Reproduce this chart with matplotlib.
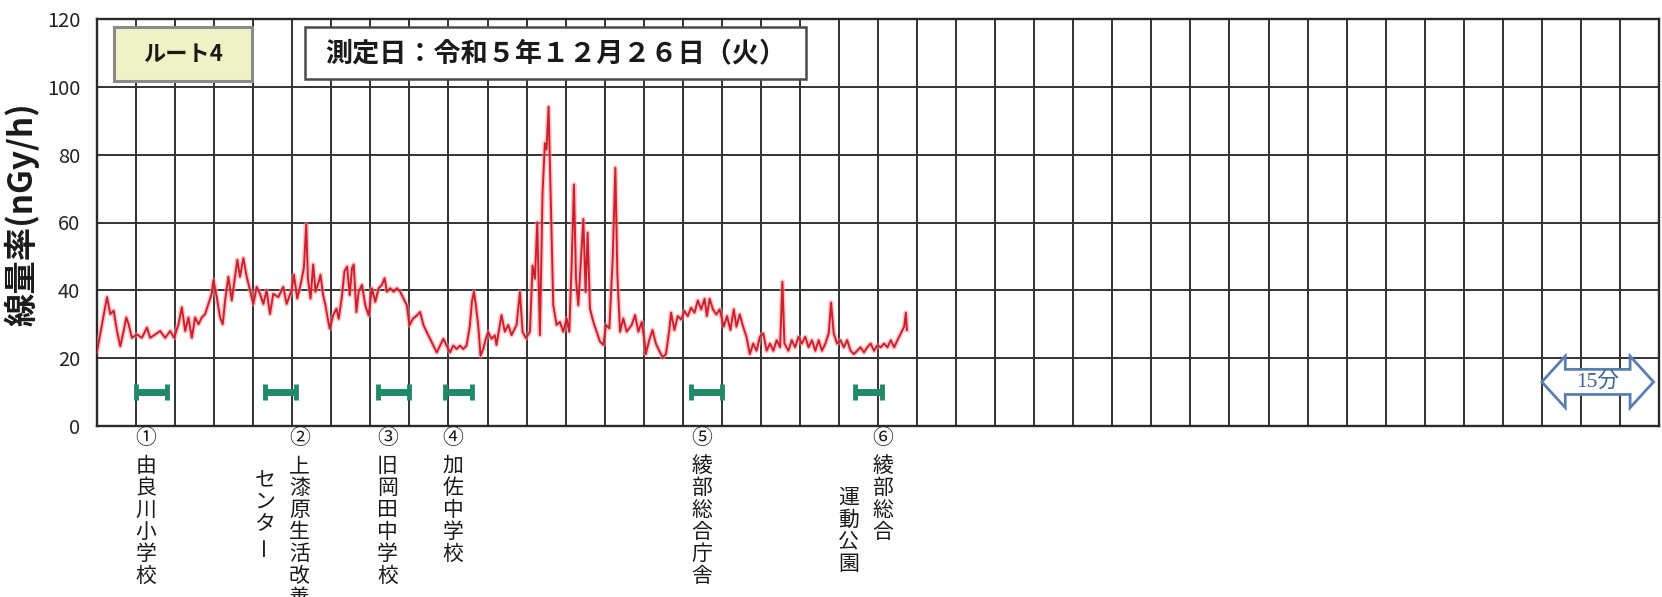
import matplotlib
matplotlib.use("Agg")
import matplotlib.pyplot as plt
import matplotlib.transforms as mtransforms
from matplotlib.patches import Rectangle, Polygon

plt.rcParams["font.family"] = ["Noto Sans CJK JP", "DejaVu Sans"]

# elapsed time (minutes) and dose rate (nGy/h)
minutes = [
    0.0, 0.64, 1.28, 1.70, 2.13, 2.56, 2.98, 3.41, 3.75, 4.05, 4.47, 5.11, 5.75, 6.39, 6.81,
    7.45, 8.09, 8.73, 9.37, 9.88, 10.43, 10.86, 11.29, 11.71, 12.14, 12.56, 12.99, 13.42,
    13.84, 14.27, 14.69, 14.91, 15.33, 15.76, 16.10, 16.40, 16.82, 17.25, 17.67, 17.97,
    18.31, 18.74, 19.17, 19.59, 20.02, 20.44, 20.87, 21.30, 21.72, 22.15, 22.57, 23.21,
    23.85, 24.28, 24.92,
    25.21, 25.64, 26.06, 26.49, 26.79, 27.00, 27.34, 27.68, 27.98, 28.40, 28.61, 28.95,
    29.25, 29.55, 29.80, 30.23, 30.66, 30.95, 31.38, 31.68, 32.02, 32.36, 32.65, 32.87,
    33.21, 33.50, 33.93, 34.35, 34.78, 35.20, 35.63, 36.06, 36.48, 36.82, 37.12, 37.54,
    37.97, 38.39, 38.82, 39.24, 39.67, 40.01, 40.44, 40.95, 41.37, 41.80, 42.22, 42.65,
    43.07, 43.50, 43.92, 44.35, 44.77, 45.20, 45.62, 46.05, 46.47, 46.90, 47.32, 47.75,
    48.00, 48.26, 48.51, 48.81, 49.11, 49.45, 49.79, 50.09, 50.51, 50.94,
    51.15, 51.79, 52.22, 52.65, 53.08, 53.72, 54.15, 54.49, 54.91, 55.43, 55.77, 56.07,
    56.37, 56.71, 57.05, 57.35, 57.56, 57.82, 58.08, 58.42, 58.85, 59.27, 59.70, 60.13,
    60.47, 60.77, 61.07, 61.33, 61.62, 61.92, 62.27, 62.56, 62.82, 63.12, 63.55, 63.98,
    64.40, 64.83, 65.17, 65.60, 66.03, 66.37, 66.63, 66.97, 67.39, 67.82, 68.46, 68.89,
    69.32, 69.75, 70.17,
    70.27, 70.70, 71.13, 71.56, 71.99, 72.42, 72.85, 73.28, 73.50, 73.93, 74.36, 74.79,
    75.21, 75.64, 76.07, 76.50, 76.93, 77.36, 77.79, 78.09, 78.44, 78.87, 79.30, 79.73,
    80.24, 80.67, 81.10, 81.53, 81.87, 82.30, 82.73, 83.16, 83.59, 84.02, 84.45, 84.88,
    85.31, 85.74, 86.17, 86.60, 87.03, 87.46, 87.76, 88.02, 88.53, 88.96, 89.39, 89.82,
    90.25, 90.68, 91.11, 91.54, 91.97, 92.40, 92.83, 93.26, 93.69, 93.99, 94.33, 94.76,
    95.19, 95.62, 96.05, 96.48, 96.91, 97.34, 97.77, 98.20, 98.63, 99.06, 99.49, 99.92,
    100.35, 100.78, 101.21, 101.64, 102.07, 102.49, 102.92, 103.35, 103.57, 103.70,
]
dose = [
    22, 30, 38, 33, 34, 28, 23.5, 28, 32, 30, 26, 27, 26, 29, 26,
    27, 28, 26, 28, 26, 30, 35, 28, 32, 26, 32, 30, 32,
    33, 36, 39, 43, 38, 32, 30, 37, 44, 37, 44, 49,
    44, 49.5, 44, 40, 36, 41, 39, 36, 40, 33, 39, 38,
    41, 36, 40,
    44.6, 37.6, 41.6, 46.6, 59.5, 43.6, 37.6, 47.6, 39.6, 42.6, 44.6, 38.6,
    35.6, 31.6, 28.7, 32.6, 34.6, 31.6, 38.6, 45.6, 47.0, 38.6, 46.6, 47.6,
    33.6, 39.6, 41.6, 35.6, 32.6, 40.6, 36.6, 40.6, 41.6, 43.6, 39.6, 40.6,
    39.6, 40.6, 39.6, 37.6, 35.6, 29.7, 31.6, 32.6, 33.6, 29.7, 27.7, 25.7,
    23.7, 21.7, 23.7, 25.7, 23.7, 21.7, 23.7, 22.7, 23.7, 22.7, 23.7, 29.7,
    36.6, 39.6, 35.6, 29.7, 20.7, 22.7, 25.7, 27.7, 25.7, 26.7,
    23.9, 32.7, 27.8, 29.8, 26.8, 29.8, 39.5, 27.8, 25.9, 27.8, 47.3, 43.4,
    60.0, 26.8, 68.8, 83.4, 81.5, 94.1, 68.8, 35.6, 29.8, 30.7, 27.8, 31.7,
    27.8, 47.3, 71.2, 43.4, 35.6, 47.3, 61.0, 39.5, 57.0, 34.6, 30.7, 27.8,
    24.9, 23.9, 29.8, 28.8, 49.3, 76.1, 44.4, 27.8, 31.7, 27.8, 29.8, 32.7,
    27.8, 30.7, 23.9,
    21.2, 25.3, 28.3, 24.3, 22.2, 20.2, 21.2, 28.3, 33.4, 28.3, 32.4, 31.4,
    33.9, 32.4, 34.9, 33.4, 37.0, 34.4, 37.5, 32.4, 37.5, 34.4, 32.9, 34.4,
    29.3, 32.4, 28.3, 34.4, 29.3, 32.9, 29.3, 26.3, 21.2, 24.3, 22.2, 26.3,
    27.3, 22.2, 24.3, 22.2, 25.3, 23.2, 42.5, 24.3, 22.2, 25.3, 23.2, 26.3,
    24.3, 26.3, 23.2, 25.3, 22.2, 25.3, 22.2, 24.3, 27.3, 36.4, 27.3, 24.3,
    25.3, 23.2, 25.3, 22.2, 21.2, 22.2, 23.2, 21.7, 23.2, 24.3, 22.2, 23.8,
    23.2, 24.3, 23.2, 25.3, 23.2, 25.3, 27.3, 29.3, 33.4, 28.3,
]

# measuring-point stays (minutes)
stay_start = [5.0, 21.5, 36.0, 44.5, 76.0, 97.0]
stay_end = [9.0, 25.5, 40.0, 48.0, 80.0, 100.5]
stay_level = 10

station_nums = ["①", "②", "③", "④", "⑤", "⑥"]
station_cols = [
    ["由良川小学校"],
    ["上漆原生活改善", "センター"],
    ["旧岡田中学校"],
    ["加佐中学校"],
    ["綾部総合庁舎"],
    ["綾部総合", "運動公園"],
]

yticks = [0, 20, 40, 60, 80, 100, 120]
route_text = "ルート4"
date_text = "測定日：令和５年１２月２６日（火）"
scale_text = "15分"

# layout
W, H = 1662, 597
label_x = [6.3, 25.9, 37.2, 45.6, 77.4, 100.6]
col_shift = -4.4
col_top = [466, 480, 498]
char_step = 22

fig = plt.figure(figsize=(W / 100, H / 100), dpi=100)
ax = fig.add_axes([97 / W, 1 - 426 / H, 1562 / W, 407 / H])

grid_c = "#333333"
ax.set_xlim(0, 200)
ax.set_ylim(0, 120)
ax.set_xticks(range(0, 201, 5))
ax.set_yticks(yticks)
ax.grid(True, color=grid_c, lw=1.4)
ax.set_axisbelow(True)
ax.tick_params(axis="x", length=0, labelbottom=False)
ax.tick_params(axis="y", length=0, pad=12, labelsize=14.5, labelcolor="#222222")
for sp in ax.spines.values():
    sp.set_color("#2a2a2a")
    sp.set_linewidth(1.7)

# trace with a soft halo like the printed original
ax.plot(minutes, dose, color="#f19aa0", lw=3.6, alpha=0.55, zorder=3)
ax.plot(minutes, dose, color="#d01f2c", lw=1.4, zorder=4)

for s, e in zip(stay_start, stay_end):
    ax.plot([s, e], [stay_level, stay_level], color="#1f8a63", lw=5,
            solid_capstyle="butt", zorder=5)
    ax.plot([s, e], [stay_level, stay_level], ls="none", marker="|",
            ms=12, mew=3.5, color="#1f8a63", zorder=5)

# header boxes
ax.add_patch(Rectangle((0.011, 0.848), 0.088, 0.132, transform=ax.transAxes,
                       fc="#eef2c4", ec="#8a8a8a", lw=2.2, zorder=6))
ax.text(0.055, 0.914, route_text, transform=ax.transAxes, ha="center", va="center",
        fontsize=16, fontweight="bold", color="#1a1a1a", zorder=7)
ax.add_patch(Rectangle((0.133, 0.852), 0.321, 0.128, transform=ax.transAxes,
                       fc="white", ec="#4a4a4a", lw=1.8, zorder=6))
ax.text(0.2935, 0.916, date_text, transform=ax.transAxes, ha="center", va="center",
        fontsize=19.5, fontweight="bold", color="#1a1a1a", zorder=7)

# 15-minute scale arrow
x0, x1, hl, yc, sh, hh = 185.0, 199.3, 3.0, 13.0, 3.7, 7.6
arrow = [(x0, yc), (x0 + hl, yc + hh), (x0 + hl, yc + sh), (x1 - hl, yc + sh),
         (x1 - hl, yc + hh), (x1, yc), (x1 - hl, yc - hh), (x1 - hl, yc - sh),
         (x0 + hl, yc - sh), (x0 + hl, yc - hh)]
ax.add_patch(Polygon(arrow, closed=True, fc="white", ec="#5a7fae", lw=2, zorder=6))
ax.text((x0 + x1) / 2, yc, scale_text, ha="center", va="center", fontsize=15.5,
        color="#3f6294", family=["Liberation Serif", "Noto Sans CJK JP"], zorder=7)

fig.text(22 / W, 1 - 214 / H, "線量率(nGy/h)", rotation=90, ha="center", va="center",
         fontsize=24, fontweight="bold", color="#1a1a1a")

# vertical station labels below the axis
tr = mtransforms.blended_transform_factory(ax.transData, fig.transFigure)
for i, (num, cols) in enumerate(zip(station_nums, station_cols)):
    xs = label_x[i]
    ax.text(xs, 1 - 438 / H, num, transform=tr, ha="center", va="center",
            fontsize=15, color="#1a1a1a")
    for j, col in enumerate(cols):
        cx = xs + j * col_shift
        top = col_top[0] if j == 0 else (col_top[1] if i == 1 else col_top[2])
        for k, ch in enumerate(col):
            ax.text(cx, 1 - (top + k * char_step) / H, ch, transform=tr,
                    ha="center", va="center", fontsize=15, color="#1a1a1a",
                    rotation=90 if ch == "ー" else 0)

fig.savefig("out.png", dpi=100)
